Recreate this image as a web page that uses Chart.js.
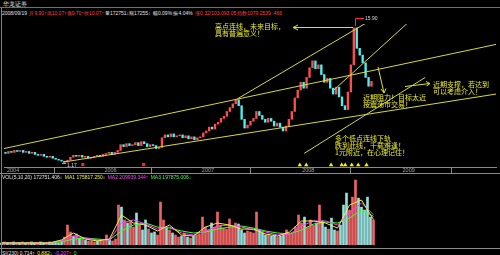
<!DOCTYPE html>
<html><head><meta charset="utf-8">
<script src="https://cdn.jsdelivr.net/npm/chart.js@4.4.1/dist/chart.umd.min.js"></script>
<style>
html,body{margin:0;padding:0;background:#000;}
#wrap{position:relative;width:500px;height:255px;overflow:hidden;background:#000;font-family:"Liberation Sans","DejaVu Sans",sans-serif;}
.t{position:absolute;white-space:nowrap;font-size:5px;line-height:6px;}
.t span{margin-right:1px;}
.ann{position:absolute;white-space:nowrap;font-family:"Noto Sans CJK SC",sans-serif;font-size:7px;line-height:7.4px;color:#ecec28;}
.hl{position:absolute;left:0;width:500px;height:1px;background:#8a8a8a;}
canvas{position:absolute;left:0;}
svg{position:absolute;left:0;top:0;}
.w{color:#e0e0e0}.r{color:#ff4040}.y{color:#f0f040}.m{color:#ff40ff}.g{color:#40ff40}
</style></head>
<body><div id="wrap">
<div class="t" style="left:3px;top:0.5px;color:#e8e8e8;font-size:6px;">华龙证券</div>
<div class="hl" style="top:7px;background:#707070"></div>
<div class="t" style="left:2px;top:10px;"><span class="w">2008/09/19</span> <span class="r">开9.90↑高10.07↑低9.70↑收10.07↑</span><span class="w">量172751↓额17255↓</span> <span class="w">幅0.09% 振4.04%</span> <span class="r">涨0.32/103.093 05</span><span class="r">指数1079.2539 .466</span></div>

<canvas id="main" width="500" height="153" style="top:20px"></canvas>
<div class="hl" style="top:173px"></div>
<canvas id="vol" width="500" height="70" style="top:175px"></canvas>
<div class="hl" style="top:248px"></div>
<div style="position:absolute;left:1px;top:8px;width:1px;height:247px;background:#808080"></div>

<div class="t" style="left:2px;top:174px;"><span class="w">VOL(5,10,20) 172751.406↓</span> <span class="y">MA1 175817.250↓</span> <span class="m">MA2 209939.344↑</span> <span class="g">MA3 197875.006↓</span></div>

<div class="t" style="left:2px;top:249.5px;"><span class="w">SI(230) 0.714↑</span> <span class="y">0.882↓</span> <span class="m">-0.207↑</span> <span class="g">0</span></div>

<div class="ann" style="left:215px;top:23px">高点连线，未来目标，<br>具有普遍意义！</div>
<div class="ann" style="left:363px;top:93.5px">近期阻力！目标太近<br>按震荡市交易！</div>
<div class="ann" style="left:433px;top:80.5px">近期支撑，若达到<br>可以考虑介入！</div>
<div class="ann" style="left:335px;top:134.5px">多个低点连线下轨<br>跌到此线，千载难逢！<br>1元附近，在心理记住！</div>
<div class="t" style="left:365px;top:15px;color:#d8d8d8">15.90</div>
<div class="t" style="left:67px;top:161.5px;color:#d8d8d8">1.17</div>

<svg width="500" height="255">
<g stroke="#e0e030" stroke-width="1" fill="none">
<line x1="293" y1="27.5" x2="353" y2="27.5"/>
<polyline points="298,25 293,27.5 298,30"/>
<line x1="378" y1="67" x2="384" y2="93"/>
<polyline points="381,89 384,93 386,88.5"/>
<line x1="405" y1="86.5" x2="430" y2="83.5"/>
<polyline points="426,81.5 430,83.5 426.5,86"/>
</g>
<polyline points="355.5,26 355.5,18.5 364,18.5" stroke="#ff3030" stroke-width="1" fill="none"/>
<line x1="62" y1="163.5" x2="66" y2="163.5" stroke="#aaa" stroke-width="1"/>
</svg>
</div>
<script>
const yearLabels = ['2004','2006','2007','2008','2009'];
const yearTickIdx = [0, 33, 66, 100, 134];

const closes = [
 2.23,2.44,2.34,2.55,2.44,2.55,2.34,2.44,2.23,2.34,
 2.12,2.02,2.12,1.91,1.81,1.91,1.70,1.59,1.49,1.38,
 1.28,1.49,1.81,2.02,1.91,2.02,1.81,1.91,1.70,1.81,
 1.91,2.02,1.91,2.12,2.23,2.34,2.12,2.34,2.55,3.18,
 2.97,3.29,3.08,3.18,3.40,3.08,3.50,3.29,2.97,3.18,
 3.08,2.76,2.87,3.93,4.24,4.03,4.35,4.03,4.14,4.24,
 3.93,4.14,3.82,4.03,3.71,3.93,4.03,4.46,4.67,5.09,
 4.88,5.41,5.62,6.04,6.26,6.79,7.21,7.63,8.06,7.42,
 5.94,4.99,5.30,5.73,6.04,6.79,6.36,5.94,5.62,6.04,
 5.73,5.20,5.52,5.09,4.67,5.20,5.94,6.79,8.27,9.12,
 9.97,9.33,10.50,11.55,12.30,11.45,11.87,10.81,9.97,10.39,
 9.33,8.69,9.44,8.38,7.42,7.00,8.91,11.87,15.90,13.67,
 12.93,12.09,10.50,9.54,10.07
];
const firstOpen = 2.34;

const volumes = [
 14,21,14,14,21,14,14,21,14,14,21,14,14,21,14,14,21,14,21,14,
 28,55,138,90,62,76,48,41,35,28,
 28,21,28,35,28,69,35,28,41,
 276,262,173,152,159,124,221,138,104,173,110,83,90,69,
 297,173,124,104,83,69,55,62,83,55,48,62,69,76,
 193,124,104,152,124,228,138,117,110,180,124,152,145,104,83,97,90,83,228,104,83,69,76,62,69,55,62,69,104,83,
 83,124,207,152,193,124,173,138,152,276,166,124,110,186,104,97,138,276,359,242,331,449,324,262,242,331,193,173
];

const maIdx = [0,4,8,12,16,20,24,28,32,36,40,44,48,52,56,60,64,68,72,76,80,84,88,92,96,100,104,108,112,116,120,124];
const ma5  = [14,14,14,14,14,35,83,41,28,41,207,152,138,97,138,69,62,124,152,138,110,110,76,62,90,166,166,152,117,276,311,176];
const ma10 = [14,14,14,14,14,28,62,48,35,35,152,173,145,110,124,83,69,97,131,138,124,104,90,69,76,131,166,166,138,221,290,210];
const ma20 = [14,14,14,14,14,21,41,48,41,35,97,138,152,124,117,97,83,90,110,124,131,117,97,83,76,104,145,159,152,186,242,198];

// trend lines: [index, price] endpoints
const trendA = [[-0.5, 2.76], [166.2, 14.10]];
const trendB = [[78.5, 8.16], [122.2, 16.43]];
const trendC = [[19.5, 1.28], [166.2, 8.69]];
const trendD = [[111.2, 9.12], [140.2, 17.59]];
const trendE = [[101.2, 2.23], [142.2, 10.50]];

const upMarkIdx = [99.7, 101.9, 110.3, 113.9, 115.1, 117.3, 119.5, 122.3];
const upMarkPrice = 0.96;
const infoMarkIdx = [26.2, 46.8];
const infoMarkPrice = 1.01;

const opens = closes.map((c, i) => i === 0 ? firstOpen : closes[i - 1]);
const isUp = closes.map((c, i) => c >= opens[i]);
const UP = '#ff4c4c', DN = '#4cf0f0';

const X_MIN = -0.5, X_MAX = 166.17;

const trendDs = [trendA, trendB, trendC, trendD, trendE].map(t => ({
  type: 'line', data: t.map(p => ({x: p[0], y: p[1]})),
  borderColor: '#d8d838', borderWidth: 1, pointRadius: 0, order: 0, tension: 0
}));

new Chart(document.getElementById('main'), {
  type: 'bar',
  data: { datasets: [
    ...trendDs,
    { type: 'scatter', data: upMarkIdx.map(x => ({x, y: upMarkPrice})), pointStyle: 'triangle',
      radius: 2.6, backgroundColor: '#f4f400', borderColor: '#f4f400', borderWidth: 0, order: 0 },
    { type: 'scatter', data: infoMarkIdx.map(x => ({x, y: infoMarkPrice})), pointStyle: 'rect',
      radius: 2.2, backgroundColor: '#ff2020', borderColor: '#ff2020', borderWidth: 0, order: 0 },
    { type: 'bar', data: closes.map((c, i) => ({x: i, y: [opens[i], c]})),
      backgroundColor: isUp.map(u => u ? UP : DN), borderWidth: 0, barThickness: 1.7, order: 3, grouped: false }
  ]},
  options: {
    responsive: false, animation: false, devicePixelRatio: 1,
    layout: { padding: 0 },
    plugins: { legend: { display: false }, tooltip: { enabled: false } },
    scales: {
      x: { type: 'linear', min: X_MIN, max: X_MAX, offset: false,
        afterBuildTicks: s => { s.ticks = yearTickIdx.map(v => ({value: v})); },
        afterFit: s => { s.height = 6; },
        ticks: { autoSkip: false, maxRotation: 0, minRotation: 0, align: 'start', padding: -6,
          color: '#a0a0a0', font: { size: 5.5, family: 'Liberation Sans' },
          callback: v => ' ' + yearLabels[yearTickIdx.indexOf(v)] },
        grid: { display: true, drawOnChartArea: false, drawTicks: true, tickLength: 6, color: '#8a8a8a' },
        border: { display: true, color: '#8a8a8a' } },
      y: { display: false, min: 0.746, max: 16.32 }
    }
  }
});

new Chart(document.getElementById('vol'), {
  type: 'bar',
  data: { datasets: [
    { type: 'line', data: maIdx.map((x, k) => ({x, y: ma5[k]})), borderColor: '#f0f040', borderWidth: 1, pointRadius: 0, order: 0 },
    { type: 'line', data: maIdx.map((x, k) => ({x, y: ma10[k]})), borderColor: '#ff40ff', borderWidth: 1, pointRadius: 0, order: 0 },
    { type: 'line', data: maIdx.map((x, k) => ({x, y: ma20[k]})), borderColor: '#40ff40', borderWidth: 1, pointRadius: 0, order: 0 },
    { type: 'bar', data: volumes.map((v, i) => ({x: i, y: v})),
      backgroundColor: isUp.map(u => u ? 'rgb(236,100,100)' : 'rgb(150,222,222)'), borderWidth: 0, barThickness: 2, order: 3, grouped: false }
  ]},
  options: {
    responsive: false, animation: false, devicePixelRatio: 1,
    layout: { padding: 0 },
    plugins: { legend: { display: false }, tooltip: { enabled: false } },
    scales: {
      x: { type: 'linear', display: false, min: X_MIN, max: X_MAX, offset: false },
      y: { display: false, min: 0, max: 484 }
    }
  }
});
</script>
</body></html>
